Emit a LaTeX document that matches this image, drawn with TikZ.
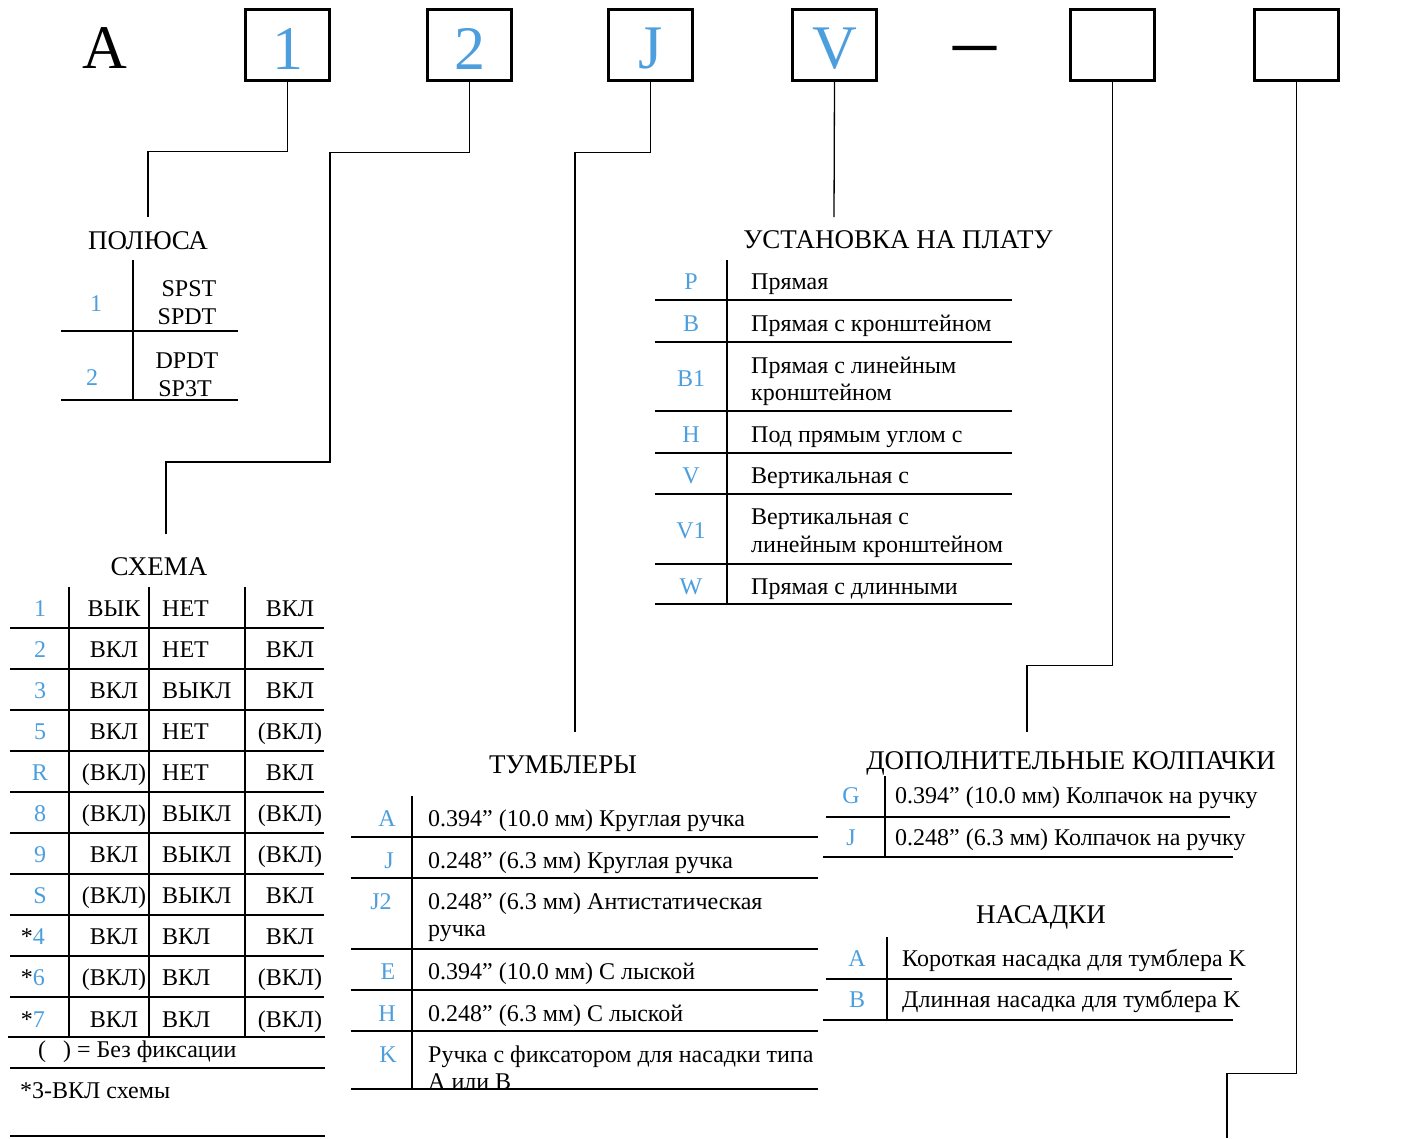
\documentclass[tikz,border=0pt]{standalone}
\usepackage{fontspec}
\setmainfont{Liberation Serif}
\usetikzlibrary{positioning}
\definecolor{keyblue}{RGB}{76,158,221}
\newcommand{\bodyfont}{\fontsize{24}{28}\selectfont}
\newcommand{\headfont}{\fontsize{27}{30}\selectfont}
\newcommand{\bigfont}{\fontsize{62}{62}\selectfont}

\begin{document}
\begin{tikzpicture}[
  x=1pt,y=-1pt,
  slot/.style={draw,line width=2.6pt,minimum width=84pt,minimum height=71pt,inner sep=0pt,text height=48pt,text=keyblue,font=\bigfont},
  lead/.style={line width=1.3pt},
  rule/.style={line width=2pt},
  hairrule/.style={line width=1.2pt},
  head/.style={anchor=base,inner sep=0pt,font=\headfont},
  cell/.style={anchor=base,inner sep=0pt,font=\bodyfont},
  keyno/.style={anchor=base,inner sep=0pt,text=keyblue,font=\bodyfont},
  txt/.style={anchor=base west,inner sep=0pt,font=\bodyfont}
]
  \useasboundingbox (0,0) rectangle (1423,1138);

  % part number
  \node[inner sep=0pt,font=\bigfont] (pref) at (105,48) {A};
  \node[slot] (s1) at (287.5,45) {1};
  \node[slot] (s2) at (469.5,45) {2};
  \node[slot] (sJ) at (650.5,45) {J};
  \node[slot] (sV) at (834.5,45) {V};
  \node[inner sep=0pt,font=\fontsize{86}{86}\selectfont] (dash) at (974.5,57) {–};
  \node[slot] (s5) at (1112.5,45) {};
  \node[slot] (s6) at (1296.5,45) {};

  % leads
  \coordinate (pol) at (148,217);
  \coordinate (k2) at (330,462);
  \coordinate (sch) at (166,534);
  \coordinate (tum) at (575,732);
  \coordinate (ust) at (834,217);
  \coordinate (cap) at (1027,732);
  \coordinate (att) at (1227,1138);
  \draw[lead] (s1.south) -- ++(0,70) -| (pol);
  \draw[lead] (s2.south) -- ++(0,71) -| (k2) -| (sch);
  \draw[lead] (sJ.south) -- ++(0,71) -| (tum);
  \draw[lead] (sV.south) -- (ust);
  \draw[lead] (s5.south) -- ++(0,584) -| (cap);
  \draw[lead] (s6.south) -- ++(0,992) -| (att);

  % ПОЛЮСА
  \node[head] (polhead) at (148,249) {ПОЛЮСА};
  \draw[rule] (133,260) -- (133,400);
  \draw[rule] (61,331) -- (238,331);
  \draw[rule] (61,400) -- (238,400);
  \node[keyno] (pol1) at (96,311) {1};
  \node[cell] (pol1a) at (189,296) {SPST};
  \node[cell] (pol1b) at (187,324) {SPDT};
  \node[keyno] (pol2) at (92,385) {2};
  \node[cell] (pol2a) at (187,368) {DPDT};
  \node[cell] (pol2b) at (185,396) {SP3T};

  % УСТАНОВКА НА ПЛАТУ
  \node[head] (usthead) at (898,248) {УСТАНОВКА НА ПЛАТУ};
  \draw[rule] (727,260) -- (727,604);
  \foreach \y in {300,342,411,453,494,564,604}
    \draw[rule] (655,\y) -- (1012,\y);
  \node[keyno] (ustP) at (691,289) {P};
  \node[txt] (ustPt) at (751,289) {Прямая};
  \node[keyno] (ustB) at (691,331) {B};
  \node[txt] (ustBt) at (751,331) {Прямая с кронштейном};
  \node[keyno] (ustB1) at (691,386) {B1};
  \node[txt] (ustB1t) at (751,373) {Прямая с линейным};
  \node[txt] (ustB1u) at (751,400) {кронштейном};
  \node[keyno] (ustH) at (691,442) {H};
  \node[txt] (ustHt) at (751,442) {Под прямым углом с};
  \node[keyno] (ustV) at (691,483) {V};
  \node[txt] (ustVt) at (751,483) {Вертикальная с};
  \node[keyno] (ustV1) at (691,538) {V1};
  \node[txt] (ustV1t) at (751,524) {Вертикальная с};
  \node[txt] (ustV1u) at (751,552) {линейным кронштейном};
  \node[keyno] (ustW) at (691,594) {W};
  \node[txt] (ustWt) at (751,594) {Прямая с длинными};

  % СХЕМА
  \node[head] (schhead) at (159,575) {СХЕМА};
  \foreach \x in {69,149,245}
    \draw[rule] (\x,587) -- (\x,1037);
  \foreach \i in {0,...,9}
    \draw[rule] (10,628+41*\i) -- (324,628+41*\i);
  \draw[rule] (8,1037) -- (325,1037);
  \foreach \k/\a/\b/\c [count=\i from 0] in
    {1/ВЫК/НЕТ/ВКЛ, 2/ВКЛ/НЕТ/ВКЛ, 3/ВКЛ/ВЫКЛ/ВКЛ, 5/ВКЛ/НЕТ/(ВКЛ),
     R/(ВКЛ)/НЕТ/ВКЛ, 8/(ВКЛ)/ВЫКЛ/(ВКЛ), 9/ВКЛ/ВЫКЛ/(ВКЛ), S/(ВКЛ)/ВЫКЛ/ВКЛ}
  {
    \node[keyno] (sch\i k) at (40,616+41.1*\i) {\k};
    \node[cell] (sch\i a) at (114,616+41.1*\i) {\a};
    \node[txt] (sch\i b) at (162,616+41.1*\i) {\b};
    \node[cell] (sch\i c) at (290,616+41.1*\i) {\c};
  }
  \foreach \k/\a/\b/\c [count=\i from 8] in
    {4/ВКЛ/ВКЛ/ВКЛ, 6/(ВКЛ)/ВКЛ/(ВКЛ), 7/ВКЛ/ВКЛ/(ВКЛ)}
  {
    \node[keyno,anchor=base east] (sch\i k) at (45,616+41.1*\i) {\textcolor{black}{*}\k};
    \node[cell] (sch\i a) at (114,616+41.1*\i) {\a};
    \node[txt] (sch\i b) at (162,616+41.1*\i) {\b};
    \node[cell] (sch\i c) at (290,616+41.1*\i) {\c};
  }
  \node[txt] (schnote) at (38,1057) {(\hspace{17pt}) = Без фиксации};
  \draw[hairrule] (10,1068) -- (325,1068);
  \node[txt] (schstar) at (20,1098) {*3-ВКЛ схемы};
  \draw[hairrule] (10,1136) -- (325,1136);

  % ТУМБЛЕРЫ
  \node[head] (tumhead) at (563,773) {ТУМБЛЕРЫ};
  \draw[rule] (412,796) -- (412,1089);
  \foreach \y in {837,878,949,990,1031,1089}
    \draw[rule] (351,\y) -- (818,\y);
  \node[keyno] (tumA) at (387,826) {A};
  \node[txt] (tumAt) at (428,826) {0.394” (10.0 мм) Круглая ручка};
  \node[keyno] (tumJ) at (389,868) {J};
  \node[txt] (tumJt) at (428,868) {0.248” (6.3 мм) Круглая ручка};
  \node[keyno] (tumJ2) at (381,909) {J2};
  \node[txt] (tumJ2t) at (428,909) {0.248” (6.3 мм) Антистатическая};
  \node[txt] (tumJ2u) at (428,936) {ручка};
  \node[keyno] (tumE) at (388,979) {E};
  \node[txt] (tumEt) at (428,979) {0.394” (10.0 мм) С лыской};
  \node[keyno] (tumH) at (387,1021) {H};
  \node[txt] (tumHt) at (428,1021) {0.248” (6.3 мм) С лыской};
  \node[keyno] (tumK) at (388,1062) {K};
  \node[txt] (tumKt) at (428,1062) {Ручка с фиксатором для насадки типа};
  \node[txt] (tumKu) at (428,1089) {А или В};

  % ДОПОЛНИТЕЛЬНЫЕ КОЛПАЧКИ
  \node[head] (caphead) at (1071,769) {ДОПОЛНИТЕЛЬНЫЕ КОЛПАЧКИ};
  \draw[rule] (885,776) -- (885,857);
  \draw[rule] (826,817) -- (1230,817);
  \draw[rule] (823,857) -- (1233,857);
  \node[keyno] (capG) at (851,803) {G};
  \node[txt] (capGt) at (895,803) {0.394” (10.0 мм) Колпачок на ручку};
  \node[keyno] (capJ) at (851,845) {J};
  \node[txt] (capJt) at (895,845) {0.248” (6.3 мм) Колпачок на ручку};

  % НАСАДКИ
  \node[head] (atthead) at (1041,923) {НАСАДКИ};
  \draw[rule] (887,937) -- (887,1020);
  \draw[rule] (826,979) -- (1232,979);
  \draw[rule] (823,1020) -- (1233,1020);
  \node[keyno] (attA) at (857,966) {A};
  \node[txt] (attAt) at (902,966) {Короткая насадка для тумблера K};
  \node[keyno] (attB) at (857,1007) {B};
  \node[txt] (attBt) at (902,1007) {Длинная насадка для тумблера K};
\end{tikzpicture}
\end{document}
